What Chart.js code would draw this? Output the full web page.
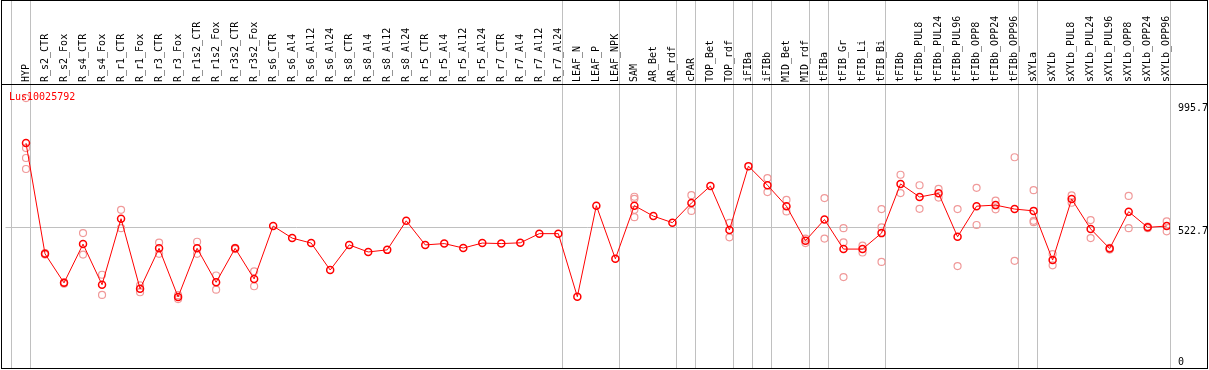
<!DOCTYPE html>
<html lang="en">
<head>
<meta charset="UTF-8">
<title>Lus10025792</title>
<script src="https://cdn.jsdelivr.net/npm/chart.js@4.4.1/dist/chart.umd.min.js"></script>
<style>
  html, body { margin: 0; padding: 0; background: #fff; }
  #chart { display: block; }
</style>
</head>
<body>
<canvas id="chart" width="1209" height="370"></canvas>
<script>
var categories = [
    "HYP", "R_s2_CTR", "R_s2_Fox", "R_s4_CTR", "R_s4_Fox", "R_r1_CTR", "R_r1_Fox",
    "R_r3_CTR", "R_r3_Fox", "R_r1s2_CTR", "R_r1s2_Fox", "R_r3s2_CTR", "R_r3s2_Fox",
    "R_s6_CTR", "R_s6_Al4", "R_s6_Al12", "R_s6_Al24", "R_s8_CTR", "R_s8_Al4", "R_s8_Al12",
    "R_s8_Al24", "R_r5_CTR", "R_r5_Al4", "R_r5_Al12", "R_r5_Al24", "R_r7_CTR", "R_r7_Al4",
    "R_r7_Al12", "R_r7_Al24", "LEAF_N", "LEAF_P", "LEAF_NPK", "SAM", "AR_Bet", "AR_rdf",
    "cPAR", "TOP_Bet", "TOP_rdf", "iFIBa", "iFIBb", "MID_Bet", "MID_rdf", "tFIBa",
    "tFIB_Gr", "tFIB_Li", "tFIB_Bi", "tFIBb", "tFIBb_PUL8", "tFIBb_PUL24", "tFIBb_PUL96",
    "tFIBb_OPP8", "tFIBb_OPP24", "tFIBb_OPP96", "sXYLa", "sXYLb", "sXYLb_PUL8",
    "sXYLb_PUL24", "sXYLb_PUL96", "sXYLb_OPP8", "sXYLb_OPP24", "sXYLb_OPP96"
];

// mean expression per sample
var means = [
    846, 423, 312, 460, 305, 557, 289, 444, 258, 444, 314, 444, 327,
    529, 483, 464, 361, 457, 430, 438, 549, 457, 462, 445, 464, 462, 465, 500, 500,
    259, 607, 404, 607, 567, 542, 617, 682, 514, 758, 685, 605, 473, 554,
    441, 441, 502, 690, 640, 654, 488, 605, 609, 594, 587, 399, 632,
    518, 443, 584, 524, 529
];

// single replicates (light circles)
var replicates = [
    [1018, 827, 789, 747], [426, 420], [314, 309], [502, 420], [343, 266], [591, 521], [302, 276],
    [466, 423], [265, 250], [469, 423], [340, 286], [446, 441], [356, 299],
    [], [], [], [], [], [], [], [], [], [], [], [], [], [], [], [],
    [], [], [], [641, 633, 591, 563], [], [], [647, 587], [], [541, 486], [], [712, 659],
    [629, 585], [481, 464], [636, 481], [521, 467, 334], [454, 428], [594, 524, 392],
    [725, 655], [685, 595], [671, 638], [594, 376], [675, 533], [626, 593], [792, 396],
    [666, 549, 544], [422, 379], [646, 618], [552, 483], [446, 439], [644, 521], [527, 521],
    [547, 509]
];

var yTicks = [0, 522.7, 995.7];
var midLine = 522.7;

// index of the last sample in each group (-1 = line before the first one)
var separators = [-1, 0, 28, 31, 34, 35, 37, 38, 39, 41, 42, 45, 52, 53, 60];

var meanPoints = means.map(function (v, i) { return { x: i, y: v }; });
var repPoints = [];
replicates.forEach(function (reps, i) {
    reps.forEach(function (v) { repPoints.push({ x: i, y: v }); });
});

var monoFont = { family: '"DejaVu Sans Mono", monospace', size: 10 };

function noPadding(s) {
    s.paddingLeft = 0;
    s.paddingRight = 0;
    s.paddingTop = 0;
    s.paddingBottom = 0;
}

var frame = {
    id: 'frame',
    beforeDatasetsDraw: function (chart) {
        var ctx = chart.ctx;
        var xs = chart.scales.x;
        ctx.save();
        ctx.fillStyle = '#c0c0c0';
        separators.forEach(function (i) {
            var x = Math.floor(xs.getPixelForValue(i + 0.22));
            ctx.fillRect(x, 0, 1, 368);
        });
        ctx.restore();
    },
    afterDraw: function (chart) {
        var ctx = chart.ctx;
        ctx.save();
        ctx.fillStyle = '#000';
        ctx.fillRect(1, 0, 1207, 1);
        ctx.fillRect(1, 84, 1207, 1);
        ctx.fillRect(1, 368, 1207, 1);
        ctx.fillRect(1, 0, 1, 369);
        ctx.fillRect(1207, 0, 1, 369);
        ctx.fillStyle = '#ff0000';
        ctx.font = '10px "DejaVu Sans Mono", monospace';
        ctx.textBaseline = 'middle';
        ctx.fillText('Lus10025792', 9, 97);
        ctx.restore();
    }
};

var ctx = document.getElementById('chart').getContext('2d');
var chart = new Chart(ctx, {
    type: 'line',
    data: {
        datasets: [{
            label: 'mean',
            data: meanPoints,
            borderColor: '#ff0000',
            borderWidth: 1,
            tension: 0,
            pointRadius: 3.5,
            pointBorderWidth: 1.5,
            pointBorderColor: '#ff0000',
            pointBackgroundColor: 'rgba(0,0,0,0)'
        }, {
            type: 'scatter',
            label: 'replicates',
            data: repPoints,
            showLine: false,
            pointRadius: 3.5,
            pointBorderWidth: 1.2,
            pointBorderColor: '#f09a9a',
            pointBackgroundColor: 'rgba(0,0,0,0)'
        }]
    },
    options: {
        responsive: false,
        animation: false,
        layout: { padding: { left: 0, right: 0, top: 0, bottom: 5 } },
        plugins: {
            legend: { display: false },
            tooltip: { enabled: false }
        },
        scales: {
            x: {
                type: 'linear',
                position: 'top',
                // chart area starts at x=5.5, samples are 19px apart
                min: -1.0783,
                max: 60.1736,
                afterBuildTicks: function (s) {
                    s.ticks = categories.map(function (c, i) { return { value: i }; });
                },
                afterFit: function (s) {
                    s.height = 85;
                    noPadding(s);
                },
                grid: { display: false, drawTicks: false },
                border: { display: false },
                ticks: {
                    autoSkip: false,
                    minRotation: 90,
                    maxRotation: 90,
                    padding: 3,
                    labelOffset: 12,
                    color: '#000',
                    font: monoFont,
                    callback: function (v) { return categories[v]; }
                }
            },
            y: {
                position: 'right',
                min: 0,
                max: 1068,
                afterBuildTicks: function (s) {
                    s.ticks = yTicks.map(function (v) { return { value: v }; });
                },
                afterFit: function (s) {
                    s.width = 39;
                    noPadding(s);
                },
                grid: {
                    drawTicks: false,
                    color: function (c) {
                        return c.tick && c.tick.value === midLine ? '#c0c0c0' : 'rgba(0,0,0,0)';
                    }
                },
                border: { display: false },
                ticks: {
                    padding: 8,
                    labelOffset: 4,
                    color: '#000',
                    font: monoFont,
                    // empty second line lifts the "0" back inside the frame
                    callback: function (v) { return v === 0 ? ['0', ''] : String(v); }
                }
            }
        }
    },
    plugins: [frame]
});
</script>
</body>
</html>
